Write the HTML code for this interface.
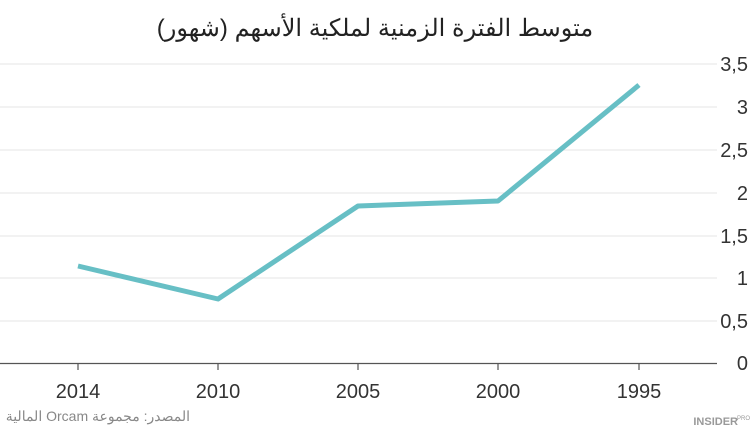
<!DOCTYPE html>
<html><head><meta charset="utf-8"><style>
body{margin:0;background:#fff;width:750px;height:429px;overflow:hidden}
svg text{font-family:"Liberation Sans","Noto Sans CJK SC",sans-serif}
</style></head><body>
<svg width="750" height="429" xmlns="http://www.w3.org/2000/svg">
<text x="375" y="36" text-anchor="middle" font-size="24" fill="#222" font-family="'DejaVu Sans',sans-serif" direction="rtl" unicode-bidi="embed">متوسط الفترة الزمنية لملكية الأسهم (شهور)</text>
<g stroke="#e6e6e6" stroke-width="1">
<line x1="0" x2="717" y1="64" y2="64"/><line x1="0" x2="717" y1="107" y2="107"/>
<line x1="0" x2="717" y1="150" y2="150"/><line x1="0" x2="717" y1="193" y2="193"/>
<line x1="0" x2="717" y1="236" y2="236"/><line x1="0" x2="717" y1="278" y2="278"/>
<line x1="0" x2="717" y1="321" y2="321"/>
</g>
<line x1="0" x2="717" y1="363.5" y2="363.5" stroke="#555" stroke-width="1.2"/>
<g stroke="#555" stroke-width="1.2">
<line x1="78" x2="78" y1="363" y2="370"/><line x1="218" x2="218" y1="363" y2="370"/>
<line x1="358" x2="358" y1="363" y2="370"/><line x1="498" x2="498" y1="363" y2="370"/>
<line x1="639" x2="639" y1="363" y2="370"/>
</g>
<g font-size="20" fill="#333" text-anchor="end">
<text x="748" y="71">3,5</text><text x="748" y="114">3</text><text x="748" y="157">2,5</text>
<text x="748" y="200">2</text><text x="748" y="243">1,5</text><text x="748" y="285">1</text>
<text x="748" y="328">0,5</text><text x="748" y="370">0</text>
</g>
<g font-size="20" fill="#333" text-anchor="middle">
<text x="78" y="398">2014</text><text x="218" y="398">2010</text><text x="358" y="398">2005</text>
<text x="498" y="398">2000</text><text x="639" y="398">1995</text>
</g>
<polyline points="78,266 218,299 358,206 498,201 639,85" fill="none" stroke="#67bfc5" stroke-width="5" stroke-linejoin="round"/>
<text x="190" y="421" text-anchor="start" font-size="14" fill="#888" font-family="'DejaVu Sans',sans-serif" direction="rtl" unicode-bidi="embed">المصدر: مجموعة Orcam المالية</text>
<text x="738" y="425" text-anchor="end" font-size="11" font-weight="bold" fill="#999" font-family="'Liberation Serif',serif">INSIDER</text>
<text x="750" y="420" text-anchor="end" font-size="6" fill="#999">PRO</text>
</svg>
</body></html>
